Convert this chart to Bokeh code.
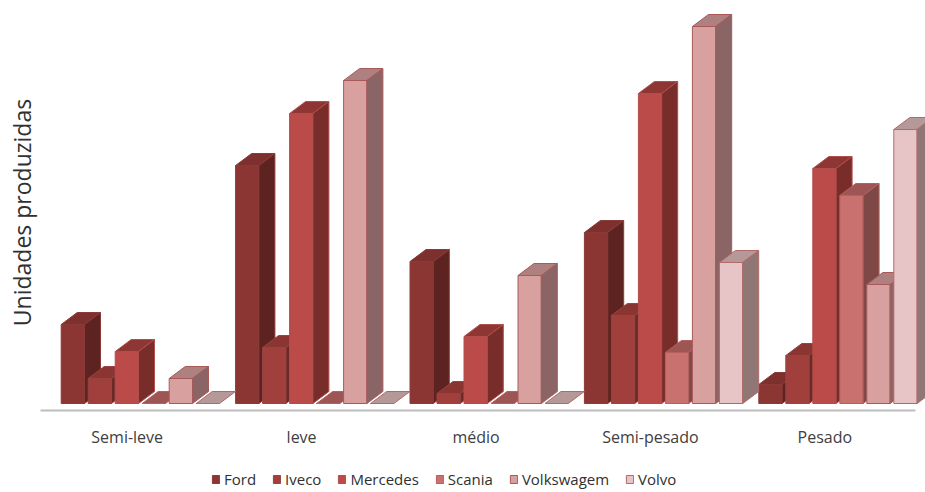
import math
from bokeh.plotting import figure
from bokeh.models import Range1d, ColumnDataSource, Legend, LegendItem
from bokeh.core.properties import value
from bokeh.embed import file_html
from bokeh.resources import INLINE

# ---- data ----
categories = ["Semi-leve", "leve", "médio", "Semi-pesado", "Pesado"]
series = ["Ford", "Iveco", "Mercedes", "Scania", "Volkswagem", "Volvo"]
ford       = [79, 238, 142, 171, 19]
iveco      = [25, 56, 10, 88, 48]
mercedes   = [52, 290, 67, 310, 235]
scania     = [0, 0, 0, 51, 208]
volkswagem = [25, 323, 128, 377, 119]
volvo      = [0, 0, 0, 141, 274]
values = [ford, iveco, mercedes, scania, volkswagem, volvo]
y_title = "Unidades produzidas"

# ---- styles ----
front_cols = ["#8C3634", "#A03F3C", "#BA4B48", "#C9716F", "#D9A0A0", "#E7C4C5"]
top_cols   = ["#7E302E", "#8A3532", "#8E3634", "#9E5655", "#AE8080", "#B59898"]
side_cols  = ["#5D2321", "#6B2A28", "#782D2B", "#7E4846", "#8B6565", "#917676"]
edge_cols  = ["#8A3A38", "#9A4340", "#B24E4B", "#B4605E", "#A85A5A", "#B06A6A"]

W, H = 925, 492
BASE = 403            # pixel row of the value 0
GROUP_START = 60.7
GROUP_STEP = 174.4
BAR_STEP = 27.0
BAR_W = 23.3
DX, DY = 16.0, 12.0

p = figure(width=W, height=H, output_backend="svg", toolbar_location=None,
           x_range=Range1d(0, W), y_range=Range1d(-(H - BASE), BASE),
           min_border=0, min_border_left=0, min_border_right=0,
           min_border_top=0, min_border_bottom=0)
p.axis.visible = False
p.grid.visible = False
p.outline_line_color = None
p.background_fill_color = "white"
p.border_fill_color = "white"

legend_items = []
for j, name in enumerate(series):
    vals = values[j]
    xl = [GROUP_START + i * GROUP_STEP + j * BAR_STEP for i in range(len(categories))]
    xr = [x + BAR_W for x in xl]
    src = ColumnDataSource(dict(x=[(a + b) / 2 for a, b in zip(xl, xr)], top=vals))
    nz = [i for i in range(len(vals)) if vals[i] > 0]
    front = p.vbar(x="x", top="top", bottom=0, width=BAR_W, source=src,
                   fill_color=front_cols[j], line_color=edge_cols[j], line_width=1)
    top_xs = [[xl[i], xr[i], xr[i] + DX, xl[i] + DX] for i in range(len(vals))]
    top_ys = [[vals[i], vals[i], vals[i] + DY, vals[i] + DY] for i in range(len(vals))]
    p.patches(top_xs, top_ys, fill_color=top_cols[j], line_color=edge_cols[j], line_width=1)
    side_xs = [[xr[i], xr[i] + DX, xr[i] + DX, xr[i]] for i in nz]
    side_ys = [[0, DY, vals[i] + DY, vals[i]] for i in nz]
    p.patches(side_xs, side_ys, fill_color=side_cols[j], line_color=edge_cols[j], line_width=1)
    legend_items.append(LegendItem(label=name, renderers=[front]))

# axis line
p.segment(x0=[40], y0=[-7], x1=[915], y1=[-7], line_color="#BDBDBD", line_width=2)

# category labels
lab_x = [GROUP_START + 66 + i * GROUP_STEP for i in range(len(categories))]
p.text(x=lab_x, y=[-33] * len(categories), text=categories,
       text_font=value("Open Sans"), text_font_size="16px", text_color="#404040",
       text_align="center", text_baseline="middle")

# y title
p.text(x=[21], y=[BASE - 212], text=[y_title], angle=math.pi / 2,
       text_font=value("Open Sans"), text_font_size="23px", text_color="#303030",
       text_align="center", text_baseline="middle")

legend = Legend(items=legend_items, orientation="horizontal", location=(211, 3),
                glyph_width=9, glyph_height=10, label_standoff=4, spacing=16,
                padding=0, margin=0, border_line_alpha=0, background_fill_alpha=0,
                label_text_font="Open Sans", label_text_font_size="15px",
                label_text_color="#303030")
p.add_layout(legend)

open("out.html", "w").write(file_html(p, INLINE))
